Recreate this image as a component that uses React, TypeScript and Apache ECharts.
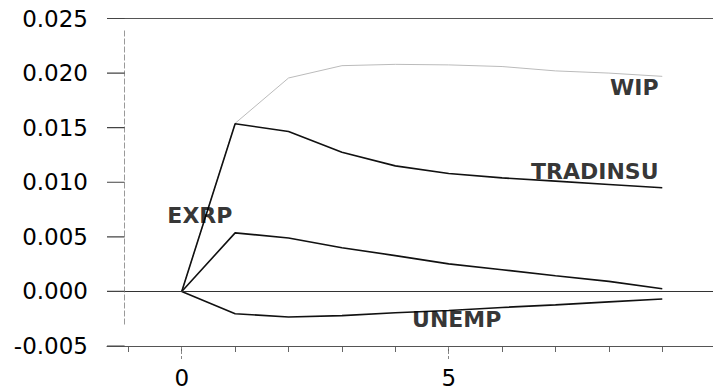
import React, { useEffect, useRef } from "react";
import * as echarts from "echarts";

// Horizon (periods)
const periods = [0, 1, 2, 3, 4, 5, 6, 7, 8, 9];

// Impulse responses
const wip = [0, 0.0154, 0.01955, 0.02068, 0.0208, 0.02075, 0.0206, 0.0202, 0.02, 0.0197];
const tradinsu = [0, 0.01536, 0.01465, 0.01275, 0.0115, 0.0108, 0.0104, 0.0101, 0.0098, 0.0095];
const exrp = [0, 0.00536, 0.0049, 0.004, 0.00328, 0.00252, 0.00199, 0.00144, 0.00092, 0.00025];
const unemp = [0, -0.00204, -0.00235, -0.00222, -0.00195, -0.00175, -0.00147, -0.00123, -0.00096, -0.0007];

// Axis ticks / labels
const xTickValues = [-1, 0, 1, 2, 3, 4, 5, 6, 7, 8, 9];
const xLabelValues = [0, 5];
const yTickValues = [-0.005, 0, 0.005, 0.01, 0.015, 0.02, 0.025];
const yMin = -0.005;
const yMax = 0.025;
const yStep = 0.005;

// Series name labels (anchor in data coordinates)
const labelNames = ["WIP", "TRADINSU", "EXRP", "UNEMP"];
const labelX = [8.93, 8.93, 0.34, 5.15];
const labelY = [0.0187, 0.011, 0.007, -0.00256];
const labelAlign = ["right", "right", "center", "center"];

export default function App() {
  const ref = useRef<HTMLDivElement>(null);

  useEffect(() => {
    if (!ref.current) return;
    const chart = echarts.init(ref.current, undefined, { renderer: "svg" });
    const pair = (arr: number[]) => periods.map((p, i) => [p, arr[i]]);
    const blackLine = { color: "#111", width: 1.6 };
    const xLeft = -1.4;
    const xRight = 9.95;
    const yAxisX = -1.07;

    // y tick marks as short line segments separated by gaps
    const tickData: any[] = [];
    yTickValues.forEach((v) => {
      tickData.push([xLeft, v], [yAxisX, v], "-");
    });

    chart.setOption({
      animation: false,
      backgroundColor: "#fff",
      grid: { left: 107, right: 0, top: 18.5, bottom: 44 },
      xAxis: [
        {
          type: "value",
          min: xLeft,
          max: xRight,
          splitLine: { show: false },
          axisLine: { show: true, onZero: false, lineStyle: { color: "#555", width: 1 } },
          axisTick: {
            show: true,
            customValues: xTickValues,
            length: 6,
            lineStyle: { color: "#666", width: 1 },
          },
          axisLabel: {
            show: true,
            customValues: xLabelValues,
            margin: 20,
            fontFamily: "DejaVu Sans",
            fontSize: 23,
            color: "#000",
          },
        },
        {
          type: "value",
          min: xLeft,
          max: xRight,
          position: "bottom",
          splitLine: { show: false },
          axisLine: { show: false, onZero: false },
          axisTick: {
            show: true,
            customValues: xLabelValues,
            length: 14,
            lineStyle: { color: "#888", width: 1, type: [3, 2] },
          },
          axisLabel: { show: false },
        },
      ],
      yAxis: {
        type: "value",
        min: yMin,
        max: yMax,
        interval: yStep,
        splitLine: { show: false },
        axisLine: { show: false, onZero: false },
        axisTick: { show: false },
        axisLabel: {
          margin: 19,
          fontFamily: "DejaVu Sans",
          fontSize: 23,
          color: "#000",
          formatter: (v: number) => (Math.abs(v) < 1e-9 ? "0.000" : v.toFixed(3)),
        },
      },
      series: [
        {
          name: "WIP",
          type: "line",
          data: pair(wip),
          symbol: "none",
          lineStyle: { color: "#bbbbbb", width: 1 },
          z: 3,
        },
        {
          name: "TRADINSU",
          type: "line",
          data: pair(tradinsu),
          symbol: "none",
          lineStyle: blackLine,
          z: 4,
        },
        {
          name: "EXRP",
          type: "line",
          data: pair(exrp),
          symbol: "none",
          lineStyle: blackLine,
          z: 4,
        },
        {
          name: "UNEMP",
          type: "line",
          data: pair(unemp),
          symbol: "none",
          lineStyle: blackLine,
          z: 4,
          markLine: {
            silent: true,
            symbol: "none",
            label: { show: false },
            data: [
              { yAxis: 0, lineStyle: { color: "#333", width: 1, type: "solid" } },
              [
                { coord: [xLeft, yMax], lineStyle: { color: "#555", width: 1, type: "solid" } },
                { coord: [xRight, yMax] },
              ],
              [
                { coord: [xLeft, yMin], lineStyle: { color: "#555", width: 1, type: "solid" } },
                { coord: [xRight, yMin] },
              ],
              [
                { coord: [yAxisX, 0.0239], lineStyle: { color: "#999", width: 1, type: [6, 2] } },
                { coord: [yAxisX, -0.0032] },
              ],
            ],
          },
        },
        {
          name: "yTicks",
          type: "line",
          data: tickData,
          symbol: "none",
          connectNulls: false,
          clip: false,
          silent: true,
          lineStyle: { color: "#444", width: 1.2 },
          z: 5,
        },
        {
          name: "labels",
          type: "scatter",
          symbolSize: 0,
          silent: true,
          z: 6,
          data: labelNames.map((n, i) => ({
            name: n,
            value: [labelX[i], labelY[i]],
            label: { align: labelAlign[i] },
          })),
          label: {
            show: true,
            position: "inside",
            verticalAlign: "middle",
            formatter: (p: any) => p.name,
            fontFamily: "DejaVu Sans",
            fontWeight: "bold",
            fontSize: 22,
            color: "#000",
          },
        },
      ],
    });

    return () => chart.dispose();
  }, []);

  return (
    <div
      ref={ref}
      style={{ position: "fixed", left: 0, top: 0, width: 713, height: 390, background: "#fff" }}
    />
  );
}
